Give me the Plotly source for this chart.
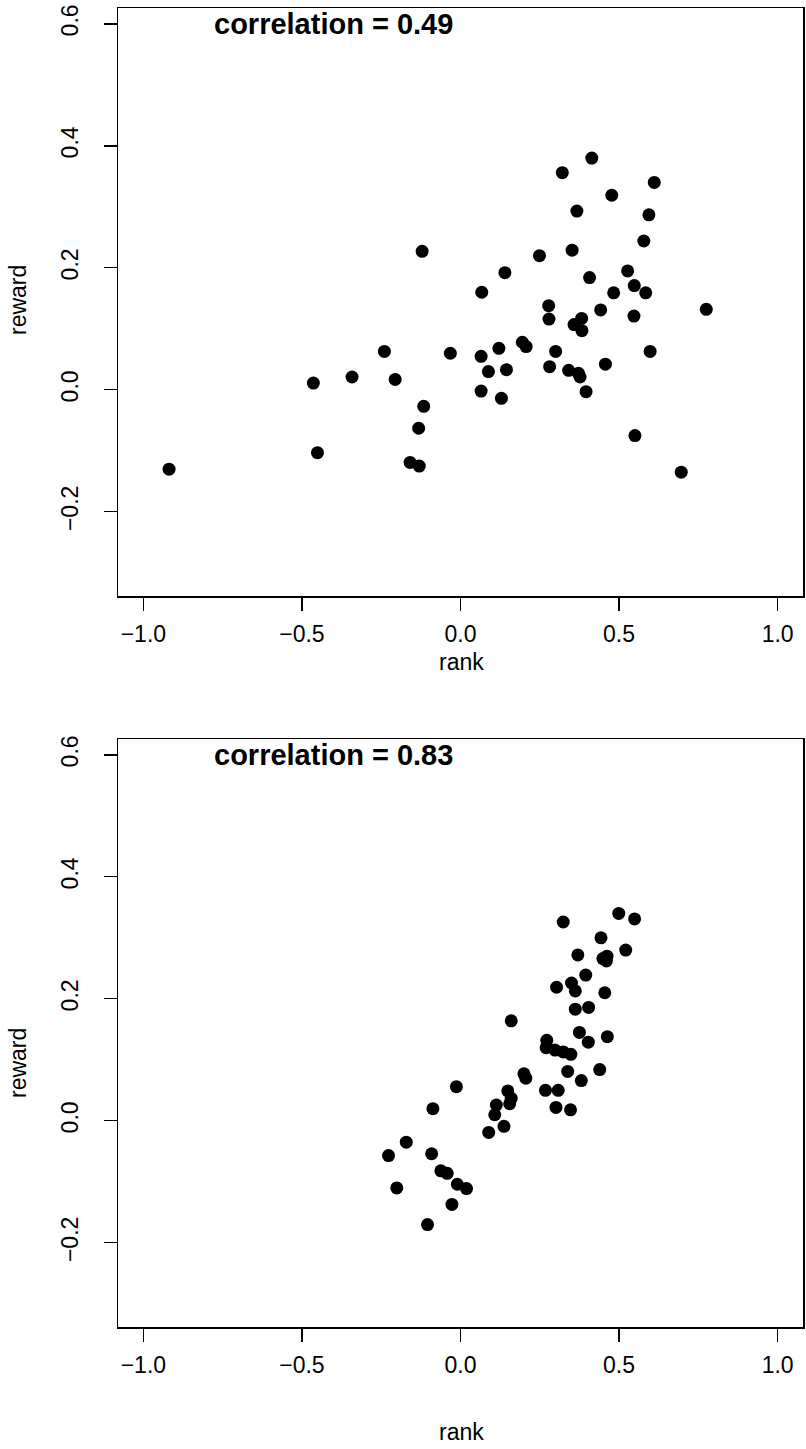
import plotly.graph_objects as go

# Top panel data (rank, reward)
rank_top = [-0.919, -0.464, -0.451, -0.342, -0.240, -0.206, -0.032, -0.121, -0.116, -0.132,
            -0.159, -0.130, 0.414, 0.321, 0.611, 0.477, 0.367, 0.594, 0.578, 0.352,
            0.249, 0.140, 0.527, 0.407, 0.548, 0.067, 0.483, 0.584, 0.278, 0.775,
            0.442, 0.547, 0.279, 0.382, 0.358, 0.383, 0.065, 0.121, 0.195, 0.207,
            0.300, 0.598, 0.088, 0.145, 0.281, 0.457, 0.341, 0.372, 0.377, 0.065,
            0.129, 0.396, 0.550, 0.696]
reward_top = [-0.130, 0.011, -0.103, 0.021, 0.063, 0.017, 0.060, 0.227, -0.027, -0.063,
              -0.119, -0.125, 0.380, 0.356, 0.340, 0.319, 0.293, 0.287, 0.244, 0.229,
              0.220, 0.192, 0.195, 0.184, 0.171, 0.160, 0.159, 0.159, 0.138, 0.132,
              0.131, 0.121, 0.116, 0.117, 0.107, 0.097, 0.055, 0.068, 0.078, 0.071,
              0.063, 0.063, 0.030, 0.033, 0.038, 0.042, 0.032, 0.027, 0.021, -0.002,
              -0.014, -0.003, -0.075, -0.135]

# Bottom panel data (rank, reward)
rank_bot = [0.499, 0.549, 0.324, 0.443, 0.521, 0.370, 0.449, 0.462, 0.460, 0.395,
            0.350, 0.362, 0.303, 0.455, 0.362, 0.404, 0.160, 0.375, 0.463, 0.403,
            0.272, 0.270, 0.298, 0.324, 0.348, 0.439, 0.338, 0.381, 0.200, 0.206,
            0.268, 0.308, 0.301, 0.347, -0.013, -0.087, 0.149, 0.160, 0.155, 0.113,
            0.108, 0.137, 0.089, -0.171, -0.227, -0.091, -0.201, -0.062, -0.042, -0.010,
            0.019, -0.027, -0.104]
reward_bot = [0.340, 0.331, 0.326, 0.300, 0.280, 0.272, 0.266, 0.270, 0.262, 0.239,
              0.226, 0.213, 0.219, 0.210, 0.183, 0.186, 0.164, 0.145, 0.138, 0.129,
              0.132, 0.120, 0.116, 0.113, 0.109, 0.084, 0.081, 0.066, 0.077, 0.070,
              0.050, 0.050, 0.022, 0.018, 0.056, 0.020, 0.049, 0.037, 0.028, 0.026,
              0.010, -0.009, -0.019, -0.035, -0.057, -0.054, -0.110, -0.082, -0.086, -0.104,
              -0.111, -0.137, -0.170]

corr_labels = ["correlation = 0.49", "correlation = 0.83"]
x_ticks = [-1.0, -0.5, 0.0, 0.5, 1.0]
x_tick_text = ["\u22121.0", "\u22120.5", "0.0", "0.5", "1.0"]
y_ticks = [-0.2, 0.0, 0.2, 0.4, 0.6]
y_tick_text = ["\u22120.2", "0.0", "0.2", "0.4", "0.6"]

W, H = 806, 1449
FONT = "Liberation Sans, Arial, Helvetica, sans-serif"

fig = go.Figure()
fig.add_trace(go.Scatter(x=rank_top, y=reward_top, mode="markers",
                         marker=dict(color="black", size=13, line=dict(width=0)),
                         xaxis="x", yaxis="y", showlegend=False))
fig.add_trace(go.Scatter(x=rank_bot, y=reward_bot, mode="markers",
                         marker=dict(color="black", size=13, line=dict(width=0)),
                         xaxis="x2", yaxis="y2", showlegend=False))

xdom = [118 / W, 803 / W]
ydom_top = [(H - 596) / H, (H - 8) / H]
ydom_bot = [(H - 1327) / H, (H - 739) / H]

xr = [-1.08, 1.08]
yr = [-0.338, 0.626]

xcommon = dict(range=xr, tickvals=x_ticks, ticktext=x_tick_text, ticks="outside",
               ticklen=13, tickwidth=1.3, tickcolor="black", showline=True, mirror=True,
               linecolor="black", linewidth=1.5, showgrid=False, zeroline=False,
               ticklabelstandoff=4,
               tickfont=dict(family=FONT, size=23, color="black"), automargin=False)
ycommon = dict(range=yr, tickvals=y_ticks, ticktext=y_tick_text, ticks="outside",
               ticklen=13, tickwidth=1.3, tickcolor="black", showline=True, mirror=True,
               linecolor="black", linewidth=1.5, showgrid=False, zeroline=False,
               ticklabelstandoff=16,
               tickangle=-90, tickfont=dict(family=FONT, size=23, color="black"),
               automargin=False)

fig.update_layout(
    width=W, height=H,
    margin=dict(l=0, r=0, t=0, b=0),
    paper_bgcolor="white", plot_bgcolor="white",
    font=dict(family=FONT, color="black"),
    hovermode=False,
    xaxis=dict(domain=xdom, anchor="y", **xcommon),
    yaxis=dict(domain=ydom_top, anchor="x", **ycommon),
    xaxis2=dict(domain=xdom, anchor="y2", **xcommon),
    yaxis2=dict(domain=ydom_bot, anchor="x2", **ycommon),
)

annotations = [
    dict(text="<b>%s</b>" % corr_labels[0], x=-0.4, y=0.6, xref="x", yref="y",
         showarrow=False, xanchor="center", yanchor="middle",
         font=dict(family=FONT, size=29, color="black")),
    dict(text="<b>%s</b>" % corr_labels[1], x=-0.4, y=0.6, xref="x2", yref="y2",
         showarrow=False, xanchor="center", yanchor="middle",
         font=dict(family=FONT, size=29, color="black")),
    dict(text="rank", x=461 / W, y=(H - 662) / H, xref="paper", yref="paper",
         showarrow=False, xanchor="center", yanchor="middle",
         font=dict(family=FONT, size=23, color="black")),
    dict(text="rank", x=461 / W, y=(H - 1432) / H, xref="paper", yref="paper",
         showarrow=False, xanchor="center", yanchor="middle",
         font=dict(family=FONT, size=23, color="black")),
    dict(text="reward", x=18 / W, y=(H - 300) / H, xref="paper", yref="paper",
         showarrow=False, xanchor="center", yanchor="middle", textangle=-90,
         font=dict(family=FONT, size=23, color="black")),
    dict(text="reward", x=18 / W, y=(H - 1063) / H, xref="paper", yref="paper",
         showarrow=False, xanchor="center", yanchor="middle", textangle=-90,
         font=dict(family=FONT, size=23, color="black")),
]
fig.update_layout(annotations=annotations)

fig.write_html("out.html",
               config={"displayModeBar": False, "staticPlot": True},
               post_script="document.body.style.margin='0';document.body.style.overflow='hidden';")
